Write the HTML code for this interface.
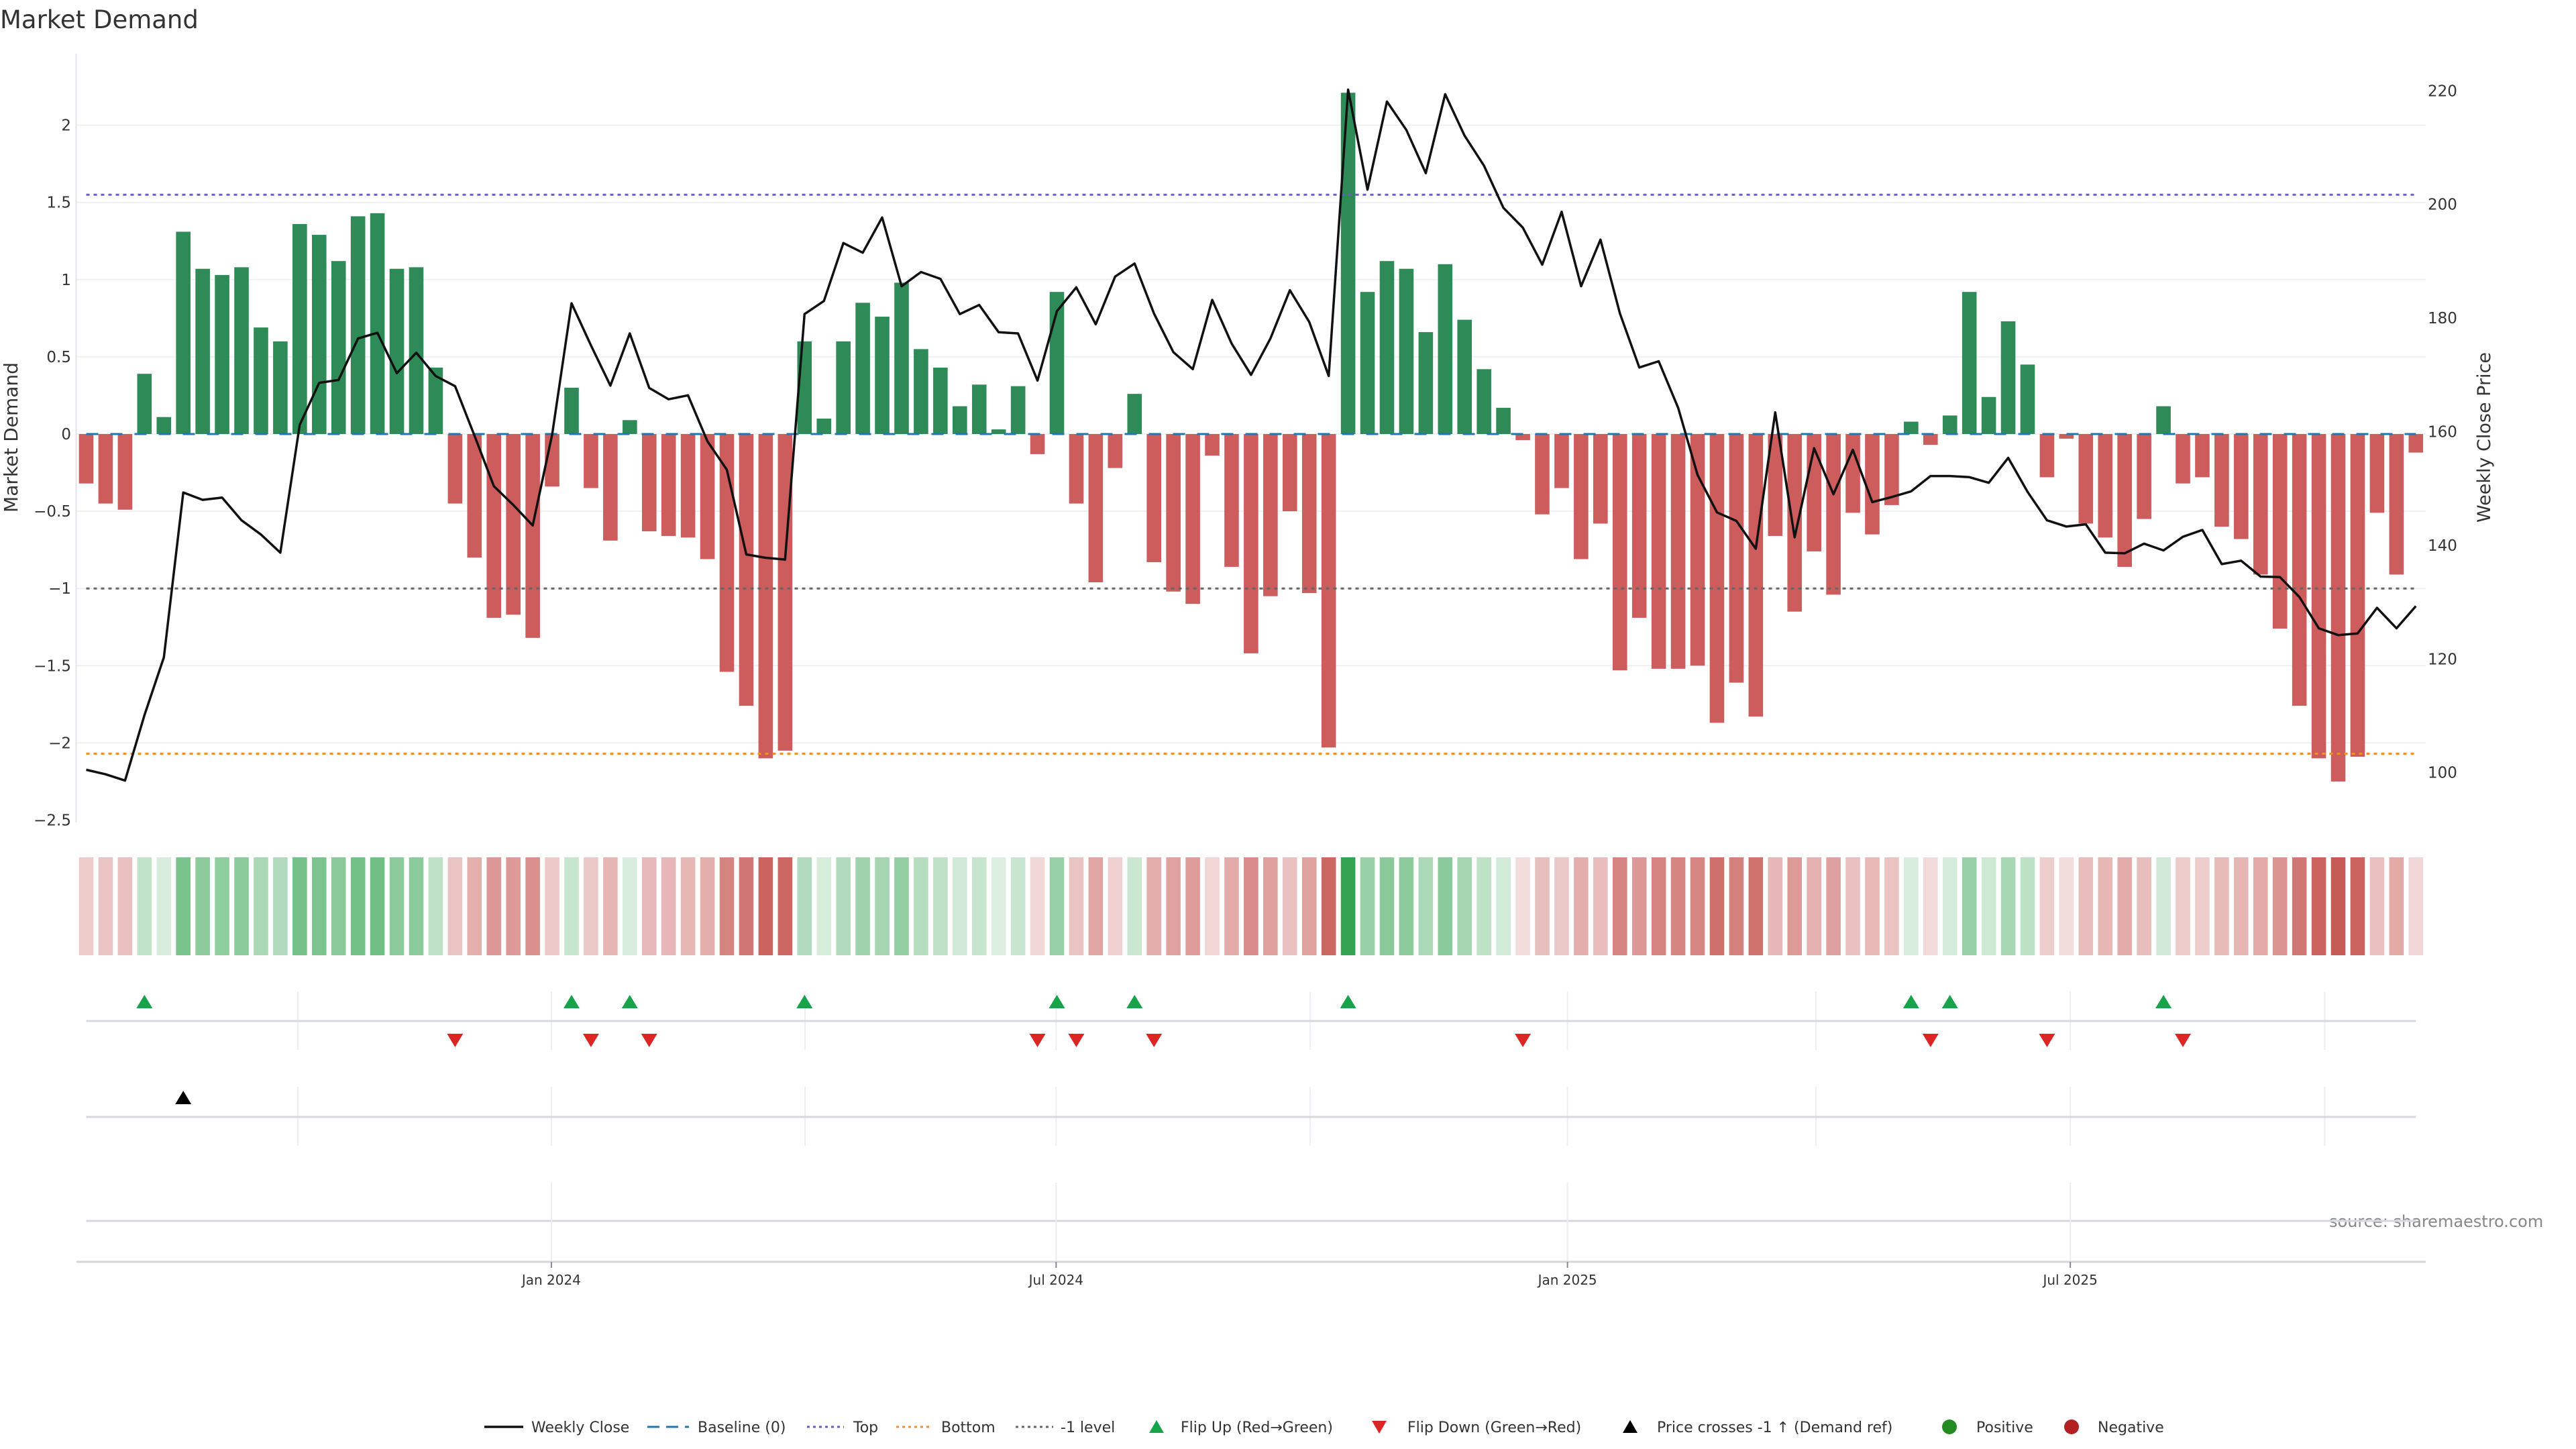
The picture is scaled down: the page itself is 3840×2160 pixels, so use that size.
<!DOCTYPE html>
<html><head><meta charset="utf-8"><style>
html,body{margin:0;padding:0;background:#fff;}
svg{display:block;font-family:"DejaVu Sans","Liberation Sans",sans-serif;}
</style></head><body>
<svg id="chart" width="3840" height="2160" viewBox="0 0 3840 2160" xmlns="http://www.w3.org/2000/svg">
<text x="0" y="42" font-size="37" fill="#333">Market Demand</text>
<text transform="translate(26,652) rotate(-90)" text-anchor="middle" font-size="28" fill="#333">Market Demand</text>
<text transform="translate(3712,652) rotate(-90)" text-anchor="middle" font-size="27" fill="#333">Weekly Close Price</text>
<text x="3472" y="1829" font-size="24" fill="#888">source: sharemaestro.com</text>
<g id="grid"></g><g id="strip"></g><g id="bars"></g><g id="refs"></g><g id="line"></g><g id="marks"></g><g id="axes"></g><g id="legend"></g>
</svg>
<script>
const demand=[-0.32,-0.45,-0.49,0.39,0.11,1.31,1.07,1.03,1.08,0.69,0.60,1.36,1.29,1.12,1.41,1.43,1.07,1.08,0.43,-0.45,
-0.80,-1.19,-1.17,-1.32,-0.34,0.30,-0.35,-0.69,0.09,-0.63,-0.66,-0.67,-0.81,-1.54,-1.76,-2.10,-2.05,0.60,0.10,0.60,
0.85,0.76,0.98,0.55,0.43,0.18,0.32,0.03,0.31,-0.13,0.92,-0.45,-0.96,-0.22,0.26,-0.83,-1.02,-1.10,-0.14,-0.86,
-1.42,-1.05,-0.50,-1.03,-2.03,2.21,0.92,1.12,1.07,0.66,1.10,0.74,0.42,0.17,-0.04,-0.52,-0.35,-0.81,-0.58,-1.53,
-1.19,-1.52,-1.52,-1.50,-1.87,-1.61,-1.83,-0.66,-1.15,-0.76,-1.04,-0.51,-0.65,-0.46,0.08,-0.07,0.12,0.92,0.24,0.73,
0.45,-0.28,-0.03,-0.58,-0.67,-0.86,-0.55,0.18,-0.32,-0.28,-0.60,-0.68,-0.91,-1.26,-1.76,-2.10,-2.25,-2.09,-0.51,-0.91,-0.12];
const price=[100.5,99.7,98.6,110.1,120.3,149.3,148.0,148.4,144.4,141.9,138.7,161.2,168.6,169.1,176.4,177.4,170.3,173.9,169.8,168.0,
159.3,150.4,147.1,143.5,159.5,182.6,175.2,168.1,177.3,167.7,165.7,166.4,158.3,153.3,138.4,137.8,137.5,180.7,183.0,193.2,
191.5,197.7,185.6,188.1,186.9,180.7,182.3,177.5,177.3,169.0,181.2,185.4,178.9,187.3,189.6,180.8,174.0,171.0,183.2,175.5,
170.0,176.4,184.9,179.3,169.8,220.2,202.6,218.1,213.1,205.5,219.4,212.1,206.8,199.4,195.9,189.4,198.7,185.6,193.8,180.8,
171.3,172.4,164.2,152.4,145.8,144.3,139.4,163.4,141.4,157.1,149.0,156.8,147.6,148.5,149.5,152.2,152.2,152.0,151.0,155.4,
149.4,144.4,143.3,143.7,138.7,138.6,140.3,139.1,141.5,142.7,136.7,137.3,134.5,134.4,130.9,125.4,124.2,124.5,129.0,125.4,129.3];
const crossIdx=[5];
const leftTicks=[2,1.5,1,0.5,0,-0.5,-1,-1.5,-2,-2.5];
const leftTickLabels=["2","1.5","1","0.5","0","\u22120.5","\u22121","\u22121.5","\u22122","\u22122.5"];
const rightTicks=[220,200,180,160,140,120,100];
const topLevel=[1.55];
const bottomLevel=[-2.07];
const minusOneLevel=[-1];
const xTickWeeks=[23.96,49.96,76.3,102.2];
const xTickLabels=["Jan 2024","Jul 2024","Jan 2025","Jul 2025"];
const quarterWeeks=[10.9,23.96,37.03,49.96,63.05,76.3,89.1,102.2,115.3];

const NS="http://www.w3.org/2000/svg";
function mk(parent,tag,attrs){const e=document.createElementNS(NS,tag);for(const k in attrs)e.setAttribute(k,attrs[k]);document.getElementById(parent).appendChild(e);return e;}
const X0=128.5,DX=28.94,BW=21.6;
const x=i=>X0+i*DX;
const yD=v=>647-v*230.2;
const yP=p=>643.5-(p-160)*8.47;
const N=demand.length;
const xL=x(0),xR=x(N-1);

leftTicks.forEach((t,i)=>{
  if(t>-2.5){const g=mk('grid','line',{x1:114,x2:3616,y1:yD(t),y2:yD(t),stroke:'#eef0f3','stroke-width':2});
  
  }
  const tl=mk('axes','text',{x:106,y:yD(t)+8,'text-anchor':'end','font-size':23,fill:'#333'});
  
  
  tl.textContent=leftTickLabels[i];
});
rightTicks.forEach(t=>{
  const tl=mk('axes','text',{x:3619,y:yP(t)+8,'font-size':23,fill:'#333'});
  
  
  tl.textContent=String(t);
});
const ya=mk('axes','line',{x1:113.5,x2:113.5,y1:80,y2:1226,stroke:'#e3e5e8','stroke-width':2});



demand.forEach((v,i)=>{
  let c;
  if(v>=0){const t=Math.min(v/2.21,1);c=`rgb(${Math.round(223+(53-223)*t)},${Math.round(240+(164-240)*t)},${Math.round(227+(82-227)*t)})`;}
  else{const t=Math.min(-v/2.25,1);c=`rgb(${Math.round(243-(243-200)*t)},${Math.round(222-(222-90)*t)},${Math.round(222-(222-85)*t)})`;}
  const r=mk('strip','rect',{x:x(i)-BW/2,y:1278,width:BW,height:146,fill:c});
  
  
});

demand.forEach((v,i)=>{
  const y1=yD(Math.max(v,0)),y2=yD(Math.min(v,0));
  const r=mk('bars','rect',{x:x(i)-BW/2,y:y1,width:BW,height:Math.max(y2-y1,1),fill:v>=0?'#2e8b57':'#cd5c5c'});
  
  
});

const b0=mk('refs','line',{x1:xL,x2:xR,y1:yD(0),y2:yD(0),stroke:'#1f77b4','stroke-width':3,'stroke-dasharray':'18 18'});


const tp=mk('refs','line',{x1:xL,x2:xR,y1:yD(topLevel[0]),y2:yD(topLevel[0]),stroke:'#6a5acd','stroke-width':3,'stroke-dasharray':'5 6'});


const bt=mk('refs','line',{x1:xL,x2:xR,y1:yD(bottomLevel[0]),y2:yD(bottomLevel[0]),stroke:'#f28e2b','stroke-width':3,'stroke-dasharray':'5 6'});


const m1=mk('refs','line',{x1:xL,x2:xR,y1:yD(minusOneLevel[0]),y2:yD(minusOneLevel[0]),stroke:'#666','stroke-width':3,'stroke-dasharray':'5 6'});



const pl=mk('line','polyline',{points:price.map((p,i)=>x(i).toFixed(1)+','+yP(p).toFixed(1)).join(' '),fill:'none',stroke:'#111','stroke-width':3.5,'stroke-linejoin':'round'});



const rows=[[1478,1565,1522],[1620,1708,1665],[1763,1880,1820]];
rows.forEach(r=>{
  quarterWeeks.forEach((w,qi)=>{
    if(r===rows[2] && [1,3,5,7].indexOf(qi)<0) return;
    const g=mk('grid','line',{x1:x(w),x2:x(w),y1:r[0],y2:r[1],stroke:'#eceef1','stroke-width':2});
    
    
  });
  const l=mk('grid','line',{x1:xL,x2:xR,y1:r[2],y2:r[2],stroke:'#d6d8db','stroke-width':3});
  
  
});
function tri(cx,cy,up,color,name){
  const pts=up?`${cx-12},${cy+10} ${cx+12},${cy+10} ${cx},${cy-10}`:`${cx-12},${cy-10} ${cx+12},${cy-10} ${cx},${cy+10}`;
  const t=mk('marks','polygon',{points:pts,fill:color});
  
  
}
for(let i=1;i<N;i++){
  if(demand[i-1]<0&&demand[i]>=0) tri(x(i),1493,true,'#16a34a','flip-up-marker');
  if(demand[i-1]>=0&&demand[i]<0) tri(x(i),1551,false,'#dc2626','flip-down-marker');
}
crossIdx.forEach(i=>tri(x(i),1636,true,'#000','price-cross-marker'));

const xa=mk('axes','line',{x1:114,x2:3616,y1:1881,y2:1881,stroke:'#d4d6d9','stroke-width':3});


xTickWeeks.forEach((w,i)=>{
  const g=mk('grid','line',{x1:x(w),x2:x(w),y1:1763,y2:1880,stroke:'#eceef1','stroke-width':2});
  
  
  const tk=mk('axes','line',{x1:x(w),x2:x(w),y1:1881,y2:1890,stroke:'#888','stroke-width':2});
  
  
  const t=mk('axes','text',{x:x(w),y:1915,'text-anchor':'middle','font-size':20,fill:'#333'});
  
  
  t.textContent=xTickLabels[i];
});

function ltext(x0,s){const t=mk('legend','text',{x:x0,y:2135,'font-size':22,fill:'#333'});


t.textContent=s;}
function lline(x1,x2,color,dash,w,name){const l=mk('legend','line',{x1:x1,x2:x2,y1:2127,y2:2127,stroke:color,'stroke-width':w,'stroke-dasharray':dash});

}
lline(722,780,'#111','none',3.5,'legend-weekly-close');ltext(792,'Weekly Close');
lline(965,1027,'#1f77b4','18 10',3,'legend-baseline');ltext(1040,'Baseline (0)');
lline(1203,1258,'#6a5acd','4 5',3,'legend-top');ltext(1272,'Top');
lline(1336,1390,'#f28e2b','4 5',3,'legend-bottom');ltext(1403,'Bottom');
lline(1514,1570,'#666','4 5',3,'legend-minus-one');ltext(1581,'-1 level');
const lg=[[1724,true,'#16a34a','legend-flip-up'],[2056,false,'#dc2626','legend-flip-down'],[2430,true,'#000','legend-price-cross']];
lg.forEach(a=>{const cx=a[0],cy=2127;const pts=a[1]?`${cx-11},${cy+9} ${cx+11},${cy+9} ${cx},${cy-10}`:`${cx-11},${cy-9} ${cx+11},${cy-9} ${cx},${cy+10}`;
const p=mk('legend','polygon',{points:pts,fill:a[2]});

});
ltext(1760,'Flip Up (Red\u2192Green)');ltext(2098,'Flip Down (Green\u2192Red)');ltext(2470,'Price crosses -1 \u2191 (Demand ref)');
const c1=mk('legend','circle',{cx:2906,cy:2127,r:11,fill:'#228b22'});


ltext(2946,'Positive');
const c2=mk('legend','circle',{cx:3088,cy:2127,r:11,fill:'#b22222'});


ltext(3127,'Negative');
</script>
</body></html>
